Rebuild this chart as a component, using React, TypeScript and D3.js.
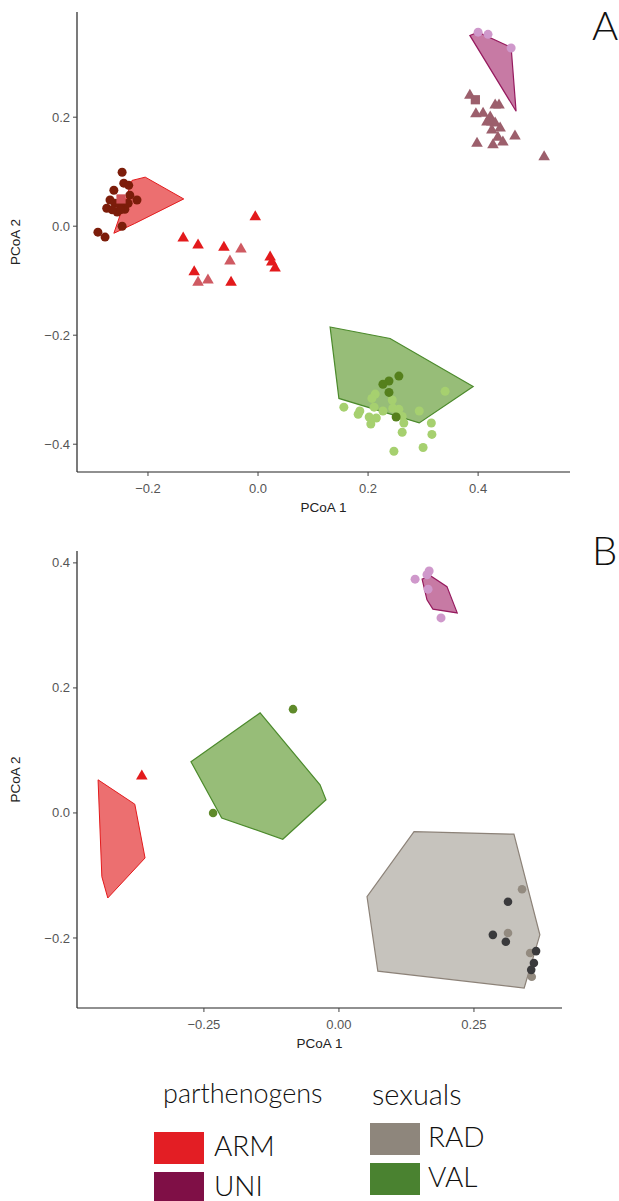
import React from "react";
import * as d3 from "d3";

type P = [number, number];

// ---------------- Panel A data ----------------
const aArmHull: P[] = [[-0.262, -0.013], [-0.229, 0.084], [-0.205, 0.09], [-0.135, 0.05], [-0.224, 0.005]];
const aUniHull: P[] = [[0.385, 0.35], [0.4, 0.356], [0.46, 0.328], [0.469, 0.211]];
const aValHull: P[] = [[0.131, -0.185], [0.24, -0.206], [0.391, -0.294], [0.293, -0.361], [0.147, -0.316]];

const aArmCircles: P[] = [
  [-0.247, 0.099], [-0.244, 0.079], [-0.235, 0.075], [-0.262, 0.066], [-0.233, 0.057],
  [-0.22, 0.048], [-0.275, 0.033], [-0.26, 0.042], [-0.242, 0.031], [-0.256, 0.026],
  [-0.247, 0.0], [-0.291, -0.011], [-0.278, -0.02], [-0.269, 0.048], [-0.251, 0.039],
  [-0.236, 0.042], [-0.265, 0.03], [-0.25, 0.03],
];
const aArmSquare: P[] = [[-0.249, 0.05]];
const aArmTriangles: P[] = [
  [-0.005, 0.017], [-0.136, -0.022], [-0.109, -0.035], [-0.062, -0.039], [0.022, -0.057],
  [0.025, -0.066], [0.031, -0.077], [-0.116, -0.084], [-0.049, -0.103],
];
const aArmTrianglesLight: P[] = [[-0.031, -0.042], [-0.051, -0.064], [-0.109, -0.103], [-0.091, -0.099]];
const aUniCircles: P[] = [[0.4, 0.356], [0.418, 0.352], [0.46, 0.327]];
const aUniTriangles: P[] = [
  [0.385, 0.24], [0.396, 0.206], [0.409, 0.207], [0.431, 0.222], [0.438, 0.222],
  [0.422, 0.2], [0.425, 0.191], [0.416, 0.191], [0.431, 0.189], [0.44, 0.18],
  [0.425, 0.176], [0.436, 0.163], [0.445, 0.154], [0.467, 0.165], [0.398, 0.152],
  [0.427, 0.149], [0.52, 0.127],
];
const aUniSquare: P[] = [[0.395, 0.232]];
const aValDark: P[] = [[0.256, -0.275], [0.238, -0.284], [0.227, -0.29], [0.238, -0.305], [0.251, -0.35]];
const aValLight: P[] = [
  [0.34, -0.303], [0.213, -0.308], [0.207, -0.316], [0.244, -0.319], [0.156, -0.332],
  [0.211, -0.332], [0.227, -0.339], [0.245, -0.334], [0.256, -0.336], [0.293, -0.339],
  [0.185, -0.339], [0.182, -0.345], [0.202, -0.35], [0.215, -0.352], [0.262, -0.349],
  [0.265, -0.361], [0.205, -0.363], [0.315, -0.361], [0.262, -0.378], [0.316, -0.382],
  [0.3, -0.406], [0.247, -0.413],
];

// ---------------- Panel B data ----------------
const bArmHull: P[] = [[-0.446, 0.053], [-0.378, 0.014], [-0.359, -0.072], [-0.428, -0.136], [-0.439, -0.102]];
const bValHull: P[] = [[-0.274, 0.082], [-0.146, 0.16], [-0.035, 0.045], [-0.024, 0.021], [-0.104, -0.042], [-0.217, -0.008]];
const bUniHull: P[] = [[0.154, 0.374], [0.17, 0.379], [0.2, 0.362], [0.219, 0.32], [0.174, 0.326], [0.163, 0.341]];
const bRadHull: P[] = [[0.139, -0.03], [0.324, -0.034], [0.372, -0.195], [0.343, -0.28], [0.072, -0.253], [0.052, -0.134]];

const bArmTriangles: P[] = [[-0.365, 0.059]];
const bValCircles: P[] = [[-0.085, 0.166], [-0.233, 0.0]];
const bUniCircles: P[] = [[0.141, 0.374], [0.167, 0.387], [0.163, 0.381], [0.165, 0.358], [0.189, 0.312]];
const bRadDark: P[] = [[0.313, -0.142], [0.285, -0.195], [0.309, -0.206], [0.365, -0.221], [0.361, -0.24], [0.356, -0.251]];
const bRadLight: P[] = [[0.339, -0.122], [0.313, -0.192], [0.354, -0.224], [0.357, -0.262]];

// ---------------- ticks / legend ----------------
const aXTicks = [-0.2, 0, 0.2, 0.4];
const aYTicks = [-0.4, -0.2, 0, 0.2];
const bXTicks = [-0.25, 0, 0.25];
const bYTicks = [-0.2, 0, 0.2, 0.4];
const legendParth = ["ARM", "UNI"];
const legendParthColors = ["#e31e24", "#7f0f46"];
const legendSex = ["RAD", "VAL"];
const legendSexColors = ["#8e867c", "#4a8230"];

const fmt1 = (v: number) => d3.format(".1f")(v).replace("-", "\u2212");
const fmt2 = (v: number) => d3.format(".2f")(v).replace("-", "\u2212");

const tickFont = "'Liberation Sans', Arial, sans-serif";
const legendFont = "Lato, 'Open Sans', sans-serif";

interface PanelProps {
  x: d3.ScaleLinear<number, number>;
  y: d3.ScaleLinear<number, number>;
  xTicks: number[];
  yTicks: number[];
  fmtX: (v: number) => string;
  fmtY: (v: number) => string;
  children?: React.ReactNode;
  letter: string;
  letterY: number;
}

function Panel({ x, y, xTicks, yTicks, fmtX, fmtY, children, letter, letterY }: PanelProps) {
  const [x0, x1] = x.range();
  const [y0, y1] = y.range(); // y0 bottom, y1 top
  return (
    <g>
      {children}
      <line x1={x0} x2={x0} y1={y1} y2={y0} stroke="#222" strokeWidth={1.2} />
      <line x1={x0} x2={x1} y1={y0} y2={y0} stroke="#222" strokeWidth={1.2} />
      {yTicks.map((t) => (
        <g key={"y" + t}>
          <line x1={x0 - 4} x2={x0} y1={y(t)} y2={y(t)} stroke="#444" strokeWidth={1} />
          <text x={x0 - 7} y={y(t)} dy="0.35em" textAnchor="end" fontFamily={tickFont} fontSize={13} fill="#555">
            {fmtY(t)}
          </text>
        </g>
      ))}
      {xTicks.map((t) => (
        <g key={"x" + t}>
          <line x1={x(t)} x2={x(t)} y1={y0} y2={y0 + 4} stroke="#444" strokeWidth={1} />
          <text x={x(t)} y={y0 + 21} textAnchor="middle" fontFamily={tickFont} fontSize={13} fill="#555">
            {fmtX(t)}
          </text>
        </g>
      ))}
      <text x={(x0 + x1) / 2} y={y0 + 40} textAnchor="middle" fontFamily={tickFont} fontSize={13.5} fill="#222">
        PCoA 1
      </text>
      <text
        transform={`translate(${20},${(y0 + y1) / 2}) rotate(-90)`}
        textAnchor="middle"
        fontFamily={tickFont}
        fontSize={13.5}
        fill="#222"
      >
        PCoA 2
      </text>
      <text x={592} y={letterY} fontFamily={legendFont} fontWeight={300} fontSize={40} fill="#111">
        {letter}
      </text>
    </g>
  );
}

export default function App() {
  // Panel A scales
  const ax = d3.scaleLinear().domain([-0.329, 0.567]).range([77, 570]);
  const ay = d3.scaleLinear().domain([-0.451, 0.393]).range([472, 12]);
  // Panel B scales
  const bx = d3.scaleLinear().domain([-0.485, 0.413]).range([77, 562]);
  const by = d3.scaleLinear().domain([-0.312, 0.419]).range([1008, 551]);

  const line = (sx: any, sy: any) =>
    d3.line<P>().x((d) => sx(d[0])).y((d) => sy(d[1])).curve(d3.curveLinearClosed);
  const tri = d3.symbol().type(d3.symbolTriangle).size(58)()!;
  const sq = d3.symbol().type(d3.symbolSquare).size(85)()!;

  const circles = (pts: P[], sx: any, sy: any, color: string, r: number, key: string, op = 1) =>
    pts.map((d, i) => <circle key={key + i} cx={sx(d[0])} cy={sy(d[1])} r={r} fill={color} fillOpacity={op} />);
  const symbols = (pts: P[], sx: any, sy: any, path: string, color: string, key: string) =>
    pts.map((d, i) => (
      <path key={key + i} d={path} transform={`translate(${sx(d[0])},${sy(d[1])})`} fill={color} />
    ));

  const la = line(ax, ay);
  const lb = line(bx, by);

  return (
    <svg width={619} height={1201} style={{ position: "absolute", left: 0, top: 0, background: "#fff" }}>
      <rect width={619} height={1201} fill="#fff" />
      <Panel x={ax} y={ay} xTicks={aXTicks} yTicks={aYTicks} fmtX={fmt1} fmtY={fmt1} letter="A" letterY={40}>
        <path d={la(aArmHull)!} fill="#ec6f70" stroke="#e31a1c" strokeWidth={1} />
        <path d={la(aUniHull)!} fill="#c77aa4" stroke="#951a5e" strokeWidth={1.2} />
        <path d={la(aValHull)!} fill="#97bd78" stroke="#4c8a2c" strokeWidth={1.2} />
        {circles(aArmCircles, ax, ay, "#7c1d0a", 4.5, "ac")}
        {symbols(aArmSquare, ax, ay, sq, "#cf5257", "as")}
        {symbols(aArmTriangles, ax, ay, tri, "#e31a1c", "at")}
        {symbols(aArmTrianglesLight, ax, ay, tri, "#cf5a62", "atl")}
        {circles(aUniCircles, ax, ay, "#cf98cb", 4.5, "auc")}
        {symbols(aUniTriangles, ax, ay, tri, "#9c5f6c", "aut")}
        {symbols(aUniSquare, ax, ay, sq, "#9c5f6c", "aus")}
        {circles(aValLight, ax, ay, "#a6d06f", 4.5, "avl")}
        {circles(aValDark, ax, ay, "#55801c", 4.5, "avd")}
      </Panel>
      <Panel x={bx} y={by} xTicks={bXTicks} yTicks={bYTicks} fmtX={fmt2} fmtY={fmt1} letter="B" letterY={565}>
        <path d={lb(bArmHull)!} fill="#ec6f70" stroke="#e31a1c" strokeWidth={1} />
        <path d={lb(bValHull)!} fill="#97bd78" stroke="#4c8a2c" strokeWidth={1.2} />
        <path d={lb(bUniHull)!} fill="#c77aa4" stroke="#951a5e" strokeWidth={1.2} />
        <path d={lb(bRadHull)!} fill="#c6c3bd" stroke="#8c8278" strokeWidth={1.2} />
        {symbols(bArmTriangles, bx, by, tri, "#e31a1c", "bt")}
        {circles(bValCircles, bx, by, "#5f8a2a", 4.3, "bv")}
        {circles(bUniCircles, bx, by, "#cf98cb", 4.5, "bu")}
        {circles(bRadLight, bx, by, "#938b80", 4.3, "brl")}
        {circles(bRadDark, bx, by, "#3a3a3c", 4.3, "brd")}
      </Panel>
      {/* Legend */}
      <text x={163} y={1103} fontFamily={legendFont} fontWeight={300} fontSize={27} fill="#111">
        parthenogens
      </text>
      <text x={372} y={1105} fontFamily={legendFont} fontWeight={300} fontSize={29} fill="#111">
        sexuals
      </text>
      {legendParth.map((name, i) => (
        <g key={name}>
          <rect x={154} y={1132 + i * 40} width={50} height={32} fill={legendParthColors[i]} />
          <text x={214} y={1156 + i * 40} fontFamily={legendFont} fontWeight={300} fontSize={28} fill="#111">
            {name}
          </text>
        </g>
      ))}
      {legendSex.map((name, i) => (
        <g key={name}>
          <rect x={370} y={1123 + i * 40} width={50} height={32} fill={legendSexColors[i]} />
          <text x={428} y={1147 + i * 40} fontFamily={legendFont} fontWeight={300} fontSize={28} fill="#111">
            {name}
          </text>
        </g>
      ))}
    </svg>
  );
}
